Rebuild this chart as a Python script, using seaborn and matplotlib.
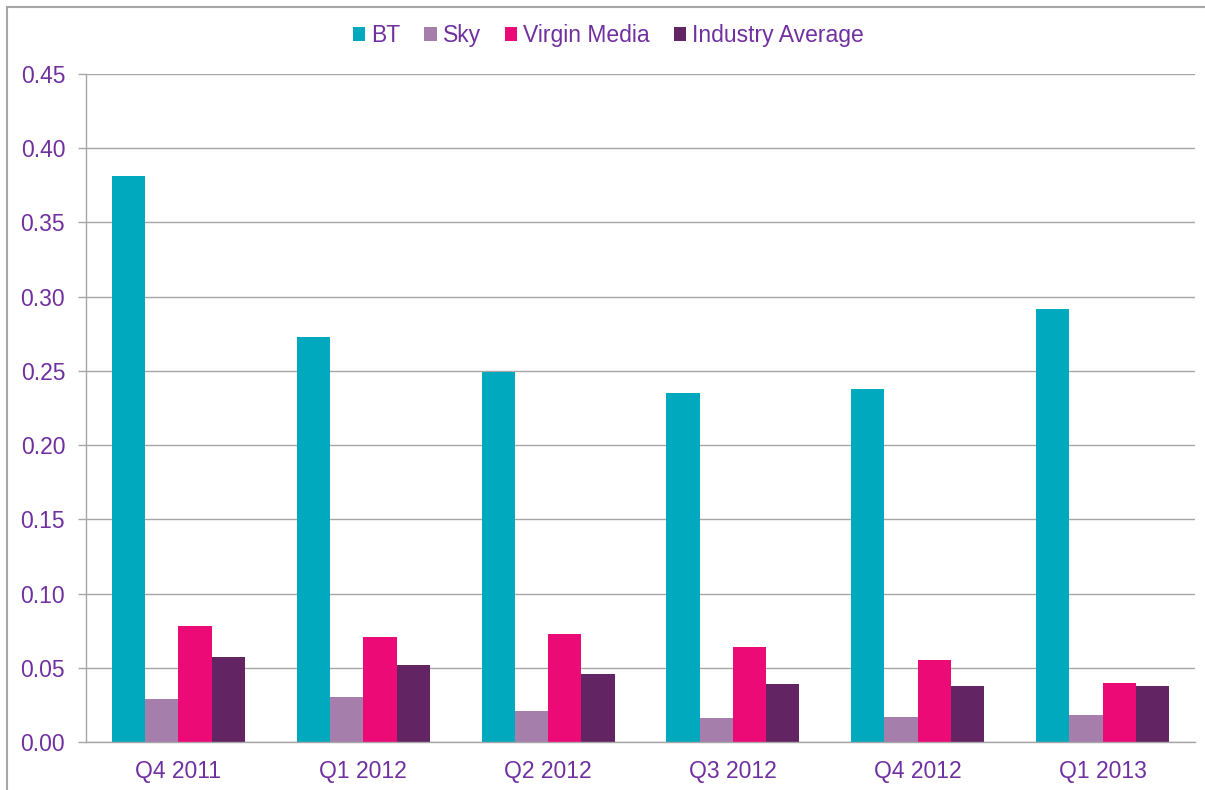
import pandas as pd
import matplotlib.pyplot as plt
import seaborn as sns
from matplotlib.patches import Rectangle

# Data
quarters = ['Q4 2011', 'Q1 2012', 'Q2 2012', 'Q3 2012', 'Q4 2012', 'Q1 2013']
bt = [0.381, 0.273, 0.249, 0.235, 0.238, 0.292]
sky = [0.029, 0.030, 0.021, 0.016, 0.017, 0.018]
virgin = [0.078, 0.071, 0.073, 0.064, 0.055, 0.040]
industry = [0.057, 0.052, 0.046, 0.039, 0.038, 0.038]

series = ['BT', 'Sky', 'Virgin Media', 'Industry Average']
colors = ['#00A9BE', '#A67EAB', '#EC0A77', '#622463']
text_color = '#7030A0'
grid_color = '#A6A6A6'

df = pd.DataFrame({'Quarter': quarters, 'BT': bt, 'Sky': sky,
                   'Virgin Media': virgin, 'Industry Average': industry})
long_df = df.melt(id_vars='Quarter', var_name='Series', value_name='Value')

sns.set_style('white')
plt.rcParams['font.family'] = ['Liberation Sans', 'DejaVu Sans']

fig = plt.figure(figsize=(12.05, 7.9), dpi=100)
ax = fig.add_axes([0.0714, 0.0608, 0.9203, 0.8455])

sns.barplot(data=long_df, x='Quarter', y='Value', hue='Series',
            hue_order=series, palette=colors, width=0.72, gap=0,
            saturation=1, linewidth=0, ax=ax, legend=True)

ax.set_ylim(0, 0.45)
ax.set_xlim(-0.5, len(quarters) - 0.5)
ax.set_yticks([i * 0.05 for i in range(10)])
ax.set_yticklabels([f'{i * 0.05:.2f}' for i in range(10)])
ax.set_xlabel('')
ax.set_ylabel('')

ax.yaxis.grid(True, color=grid_color, linewidth=1)
ax.set_axisbelow(True)
for side in ['top', 'right']:
    ax.spines[side].set_visible(False)
for side in ['left', 'bottom']:
    ax.spines[side].set_color(grid_color)
    ax.spines[side].set_linewidth(1)

# category boundary ticks on the x axis
ax.set_xticks([i - 0.5 for i in range(len(quarters) + 1)], minor=True)
ax.tick_params(axis='x', which='minor', length=7, color=grid_color, width=1)
ax.tick_params(axis='x', which='major', length=0, pad=13, labelsize=16.5,
               labelcolor=text_color)
ax.tick_params(axis='y', length=6, color=grid_color, width=1, pad=9,
               labelsize=16.5, labelcolor=text_color, left=True)

leg = ax.legend(loc='center', bbox_to_anchor=(0.471, 1.058), ncol=4,
                frameon=False, fontsize=16.5, handlelength=0.55,
                handleheight=0.55, handletextpad=0.25, columnspacing=1.05)
for t in leg.get_texts():
    t.set_color(text_color)

# outer chart border
fig.patches.append(Rectangle((0.006, -0.01), 1.0, 1.001, transform=fig.transFigure,
                             fill=False, edgecolor='#A6A6A6', linewidth=1.5))

fig.savefig('out.png', dpi=100)
